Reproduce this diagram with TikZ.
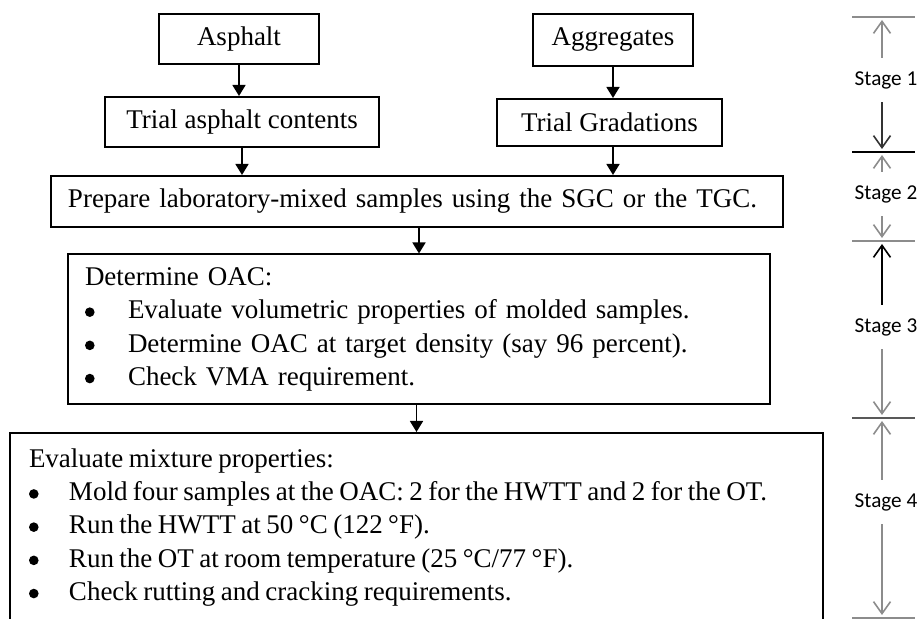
\documentclass[tikz,border=0pt]{standalone}
\usepackage{fontspec}
\setmainfont{Liberation Serif}
\newfontfamily\stagefont{Carlito}
\usetikzlibrary{arrows.meta}

\definecolor{stagegray}{gray}{0.55}
\newcommand{\blt}[1][21.5pt]{\makebox[#1][l]{\tikz[baseline=-3.4pt]\fill (2.9pt,0) circle (2.4pt);}}

\tikzset{
    box/.style={draw, line width=1pt, inner sep=0pt, font=\fontsize{13.5}{16.6}\selectfont},
    flow/.style={-{Triangle[width=6.5pt,length=5.5pt]}, line width=0.8pt},
    stagelabel/.style={inner sep=0pt, minimum height=22pt, font=\stagefont\fontsize{10.6}{12}\selectfont},
    stagearrow/.style={-{Straight Barb[length=6pt,width=8.5pt]}, line width=0.8pt, draw=stagegray},
    stageline/.style={line width=1pt, draw=stagegray}
}

\begin{document}
\begin{tikzpicture}[x=0.5pt, y=-0.5pt]
        \clip (0,0) rectangle (922,619);

        % input boxes
        \node[box, minimum width=80pt, minimum height=25pt] (asph) at (239,39) {Asphalt};
        \node[box, minimum width=137pt, minimum height=25pt] (tac) at (242,122) {Trial asphalt contents};
        \node[box, minimum width=80pt, minimum height=26pt] (aggr) at (613,40) {Aggregates};
        \node[box, minimum width=112.5pt, minimum height=23.5pt] (tgrad) at (609.5,122.5) {Trial Gradations};

        % steps
        \node[box, text width=349pt, inner xsep=8.5pt, minimum height=25.5pt, align=left] (prep) at (417,201.5)
            {Prepare laboratory-mixed samples using the SGC or the TGC.};
        \node[box, text width=334pt, inner xsep=8.5pt, minimum height=75pt, align=left] (oac) at (419,329.5)
            {Determine OAC:\\
             \blt Evaluate volumetric properties of molded samples.\\
             \blt Determine OAC at target density (say 96 percent).\\
             \blt Check VMA requirement.};
        \node[box, text width=387.5pt, inner xsep=9.5pt, minimum height=94.5pt, align=left] (eval) at (416.5,527.5)
            {\spaceskip=2.75pt plus 0.5pt minus 0.3pt
             Evaluate mixture properties:\\
             \mbox{\blt[20pt]Mold four samples at the OAC: 2 for the HWTT and 2 for the OT.}\\
             \blt[20pt]Run the HWTT at 50 °C (122 °F).\\
             \blt[20pt]Run the OT at room temperature (25 °C/77 °F).\\
             \blt[20pt]Check rutting and cracking requirements.};

        \draw[flow] (asph.south) -- (asph.south |- tac.north);
        \draw[flow] (tac.south) -- (tac.south |- prep.north);
        \draw[flow] (aggr.south) -- (aggr.south |- tgrad.north);
        \draw[flow] (aggr.south |- tgrad.south) -- (aggr.south |- prep.north);
        \draw[flow] (oac.north |- prep.south) -- (oac.north);
        \draw[flow] (eval.north |- oac.south) -- (eval.north);

        % stages
        \coordinate (s0) at (882,17);
        \coordinate (s1) at (882,152);
        \coordinate (s2) at (882,241);
        \coordinate (s3) at (882,418);
        \coordinate (s4) at (882,618);

        \draw[stageline] (852,17) -- (915,17);
        \draw[stageline, draw=black] (852,152) -- (915,152);
        \draw[stageline] (852,241) -- (915,241);
        \draw[stageline, draw=black!65] (852,418) -- (915,418);
        \draw[stageline] (852,618) -- (915,618);

        \node[stagelabel] (st1) at (886,80) {Stage 1};
        \node[stagelabel] (st2) at (886,194) {Stage 2};
        \node[stagelabel] (st3) at (886,327) {Stage 3};
        \node[stagelabel] (st4) at (886,502) {Stage 4};

        \draw[stagearrow] (s0 |- st1.north) -- ([yshift=-1.5pt]s0);
        \draw[stagearrow, draw=black!80] (s0 |- st1.south) -- ([yshift=1.5pt]s1);
        \draw[stagearrow] (s1 |- st2.north) -- ([yshift=-1.5pt]s1);
        \draw[stagearrow] (s1 |- st2.south) -- ([yshift=1.5pt]s2);
        \draw[stagearrow, draw=black] (s2 |- st3.north) -- ([yshift=-1.5pt]s2);
        \draw[stagearrow] (s2 |- st3.south) -- ([yshift=1.5pt]s3);
        \draw[stagearrow] (s3 |- st4.north) -- ([yshift=-1.5pt]s3);
        \draw[stagearrow] (s3 |- st4.south) -- ([yshift=1.5pt]s4);
    
    \end{tikzpicture}
\end{document}
